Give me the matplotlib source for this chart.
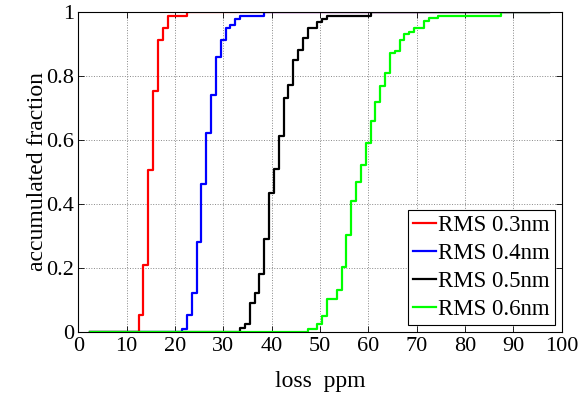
import matplotlib
matplotlib.use('Agg')
import matplotlib.pyplot as plt

# common start / end of the stair curves (ppm)
x_start = 2.5
x_end = 97.5

# step positions (loss ppm) and accumulated fraction after each step
red_x = [12.5, 13.5, 14.5, 15.5, 16.5, 17.5, 18.5, 22.5]
red_y = [0.052, 0.209, 0.507, 0.755, 0.912, 0.951, 0.990, 1.0]

blue_x = [21.5, 22.5, 23.5, 24.5, 25.5, 26.5, 27.5, 28.5, 29.5, 30.5, 31.5, 32.5, 33.5, 38.5]
blue_y = [0.008, 0.052, 0.122, 0.282, 0.462, 0.622, 0.740, 0.860, 0.912, 0.951, 0.961, 0.979, 0.990, 1.0]

black_x = [33.5, 34.5, 35.5, 36.5, 37.5, 38.5, 39.5, 40.5, 41.5, 42.5, 43.5, 44.5, 45.5,
           46.5, 47.5, 49.5, 50.5, 51.5, 60.5]
black_y = [0.010, 0.023, 0.091, 0.122, 0.181, 0.291, 0.434, 0.510, 0.613, 0.732, 0.771, 0.850,
           0.881, 0.921, 0.951, 0.971, 0.980, 0.990, 1.0]

green_x = [47.5, 49.5, 50.5, 51.5, 53.5, 54.5, 55.5, 56.5, 57.5, 58.5, 59.5, 60.5, 61.5, 62.5,
           63.5, 64.5, 65.5, 66.5, 67.5, 68.5, 69.5, 71.5, 72.5, 74.5, 87.5]
green_y = [0.009, 0.023, 0.050, 0.101, 0.131, 0.202, 0.301, 0.410, 0.470, 0.522, 0.592, 0.661,
           0.720, 0.770, 0.811, 0.873, 0.880, 0.912, 0.931, 0.939, 0.950, 0.972, 0.981, 0.989, 1.0]

labels = ['RMS 0.3nm', 'RMS 0.4nm', 'RMS 0.5nm', 'RMS 0.6nm']
colors = ['#ff0000', '#0000ff', '#000000', '#00ff00']

plt.rcParams['font.family'] = ['Liberation Serif', 'DejaVu Serif']
plt.rcParams['font.size'] = 16

fig, ax = plt.subplots(figsize=(5.88, 3.99), dpi=100)
fig.subplots_adjust(left=0.133, right=0.955, top=0.969, bottom=0.169)

series = [(red_x, red_y), (blue_x, blue_y), (black_x, black_y), (green_x, green_y)]
for (sx, sy), lab, col in zip(series, labels, colors):
    xs = [x_start] + sx + [x_end]
    ys = [0] + sy + [1]
    ax.step(xs, ys, where='post', color=col, linewidth=1.6, label=lab)

ax.set_xlim(0, 100)
ax.set_ylim(0, 1)
ax.set_xticks(range(0, 101, 10))
ax.set_yticks([0, 0.2, 0.4, 0.6, 0.8, 1])
ax.set_yticklabels(['0', '0.2', '0.4', '0.6', '0.8', '1'])
ax.tick_params(direction='in', top=True, right=True, length=4, width=0.6)
ax.tick_params(axis='x', pad=4)
ax.tick_params(axis='y', pad=3)
ax.grid(True, linestyle=':', color='#888888', linewidth=0.7)
for sp in ax.spines.values():
    sp.set_linewidth(0.8)

ax.set_xlabel('loss  ppm', fontsize=17, labelpad=11)
ax.set_ylabel('accumulated fraction', fontsize=17, labelpad=-1)

leg = ax.legend(loc='lower right', fancybox=False, framealpha=1, edgecolor='black',
                fontsize=16.5, handlelength=1.0, handletextpad=0.1, borderpad=0.22,
                labelspacing=0.3, borderaxespad=0.3)
leg.get_frame().set_linewidth(0.8)

fig.savefig('out.png', dpi=100)
